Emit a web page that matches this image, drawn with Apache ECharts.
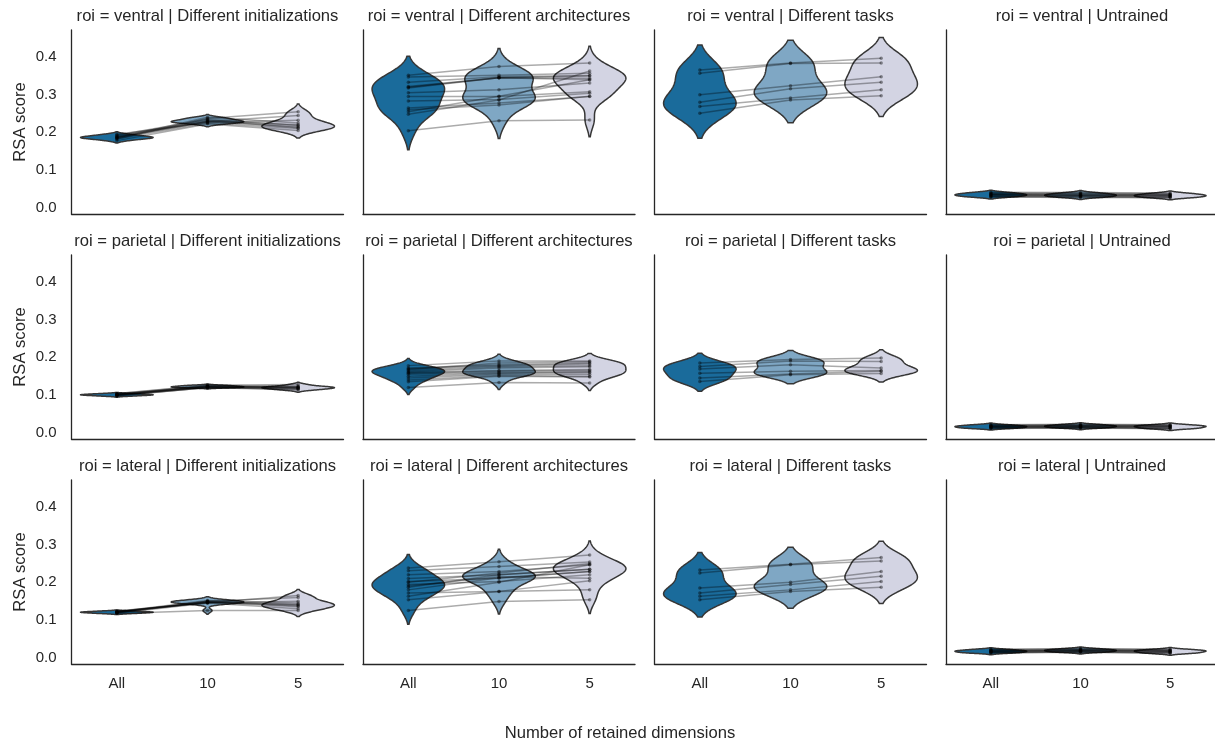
<!DOCTYPE html>
<html><head><meta charset="utf-8">
<script src="https://cdn.jsdelivr.net/npm/echarts@6/dist/echarts.min.js"></script>
<style>html,body{margin:0;padding:0;background:#fff}#chart{width:1215px;height:744px}</style>
</head><body><div id="chart"></div>
<script>
// ---------- data ----------
const categories = ['All', '10', '5'];
const rois = ['ventral', 'parietal', 'lateral'];
const conditions = ['Different initializations', 'Different architectures', 'Different tasks', 'Untrained'];
const yTicks = [0.0, 0.1, 0.2, 0.3, 0.4];
const xAxisTitle = 'Number of retained dimensions';
const yAxisTitle = 'RSA score';

// each panel: [values at All, values at 10, values at 5]; index k = one model
const ventralInit = [
  [0.178, 0.183, 0.186, 0.188, 0.190, 0.192, 0.185, 0.195, 0.187, 0.182],
  [0.222, 0.225, 0.228, 0.230, 0.232, 0.235, 0.240, 0.226, 0.229, 0.237],
  [0.205, 0.210, 0.215, 0.220, 0.212, 0.218, 0.225, 0.232, 0.245, 0.255]
];
const ventralArch = [
  [0.352, 0.347, 0.333, 0.322, 0.318, 0.305, 0.295, 0.283, 0.265, 0.260, 0.255, 0.248, 0.204, 0.320],
  [0.375, 0.352, 0.348, 0.345, 0.345, 0.313, 0.295, 0.287, 0.278, 0.273, 0.296, 0.286, 0.231, 0.345],
  [0.384, 0.357, 0.351, 0.344, 0.340, 0.331, 0.308, 0.304, 0.295, 0.296, 0.340, 0.363, 0.233, 0.350]
];
const ventralTask = [
  [0.366, 0.357, 0.300, 0.280, 0.269, 0.251],
  [0.384, 0.383, 0.324, 0.316, 0.291, 0.286],
  [0.397, 0.384, 0.348, 0.333, 0.313, 0.297]
];
const ventralUntr = [
  [0.031, 0.036, 0.034, 0.039, 0.029, 0.034, 0.041, 0.032, 0.037, 0.028],
  [0.030, 0.035, 0.033, 0.038, 0.028, 0.033, 0.040, 0.031, 0.036, 0.027],
  [0.029, 0.034, 0.032, 0.037, 0.027, 0.032, 0.039, 0.030, 0.035, 0.026]
];
const parietalInit = [
  [0.098, 0.100, 0.101, 0.102, 0.099, 0.103, 0.100, 0.097, 0.101, 0.104],
  [0.120, 0.122, 0.124, 0.121, 0.119, 0.125, 0.123, 0.120, 0.122, 0.126],
  [0.115, 0.118, 0.120, 0.122, 0.117, 0.124, 0.119, 0.113, 0.121, 0.128]
];
const parietalArch = [
  [0.178, 0.172, 0.170, 0.165, 0.162, 0.160, 0.158, 0.155, 0.150, 0.145, 0.140, 0.135, 0.120, 0.168],
  [0.190, 0.180, 0.178, 0.175, 0.172, 0.165, 0.163, 0.160, 0.158, 0.155, 0.152, 0.150, 0.133, 0.185],
  [0.190, 0.185, 0.182, 0.178, 0.175, 0.168, 0.165, 0.162, 0.160, 0.155, 0.150, 0.148, 0.132, 0.188]
];
const parietalTask = [
  [0.185, 0.176, 0.169, 0.158, 0.145, 0.136],
  [0.194, 0.190, 0.180, 0.163, 0.156, 0.154],
  [0.198, 0.189, 0.172, 0.165, 0.163, 0.157]
];
const parietalUntr = [
  [0.013, 0.017, 0.016, 0.020, 0.012, 0.016, 0.021, 0.014, 0.018, 0.011],
  [0.014, 0.018, 0.017, 0.021, 0.013, 0.017, 0.022, 0.015, 0.019, 0.012],
  [0.013, 0.017, 0.016, 0.020, 0.011, 0.016, 0.021, 0.013, 0.018, 0.010]
];
const lateralInit = [
  [0.118, 0.120, 0.121, 0.122, 0.119, 0.123, 0.120, 0.117, 0.121, 0.124],
  [0.145, 0.148, 0.150, 0.152, 0.147, 0.145, 0.150, 0.125, 0.148, 0.146],
  [0.130, 0.135, 0.140, 0.145, 0.138, 0.150, 0.160, 0.125, 0.142, 0.165]
];
const lateralArch = [
  [0.238, 0.231, 0.220, 0.210, 0.202, 0.194, 0.187, 0.180, 0.172, 0.163, 0.154, 0.125, 0.200, 0.190],
  [0.255, 0.242, 0.229, 0.220, 0.211, 0.202, 0.220, 0.212, 0.176, 0.200, 0.176, 0.149, 0.225, 0.215],
  [0.273, 0.254, 0.247, 0.235, 0.229, 0.220, 0.235, 0.229, 0.180, 0.247, 0.204, 0.154, 0.250, 0.211]
];
const lateralTask = [
  [0.233, 0.225, 0.185, 0.172, 0.163, 0.154],
  [0.248, 0.247, 0.200, 0.194, 0.180, 0.176],
  [0.266, 0.257, 0.229, 0.216, 0.202, 0.187]
];
const lateralUntr = [
  [0.014, 0.018, 0.017, 0.021, 0.013, 0.017, 0.022, 0.015, 0.019, 0.012],
  [0.016, 0.020, 0.019, 0.023, 0.015, 0.019, 0.024, 0.017, 0.021, 0.014],
  [0.014, 0.018, 0.017, 0.021, 0.012, 0.017, 0.022, 0.014, 0.019, 0.011]
];

const panels = [
  [ventralInit, ventralArch, ventralTask, ventralUntr],
  [parietalInit, parietalArch, parietalTask, parietalUntr],
  [lateralInit, lateralArch, lateralTask, lateralUntr]
];

// ---------- style / layout ----------
const violinColors = ['#1a6b9b', '#7fa7c4', '#d3d4e3'];
const edgeColor = '#363636';
const textColor = '#262626';
const fontFamily = "'Liberation Sans', Arial, sans-serif";
const gridLefts = [71.5, 363, 654.5, 946];
const gridTops = [30, 255, 480];
const gridW = 272, gridH = 184;
const yMin = -0.017, yMax = 0.472;

// ---------- KDE (scott bandwidth, cut = 2, width-normalised) ----------
function kde(vals) {
  const n = vals.length;
  const mean = vals.reduce((a, b) => a + b, 0) / n;
  const sd = Math.sqrt(vals.reduce((a, b) => a + (b - mean) * (b - mean), 0) / (n - 1)) || 0.001;
  const bw = sd * Math.pow(n, -0.2);
  const lo = Math.min(...vals) - 2 * bw, hi = Math.max(...vals) + 2 * bw;
  const ys = [], ds = [];
  const G = 100;
  let mx = 0;
  for (let i = 0; i < G; i++) {
    const y = lo + (hi - lo) * i / (G - 1);
    let d = 0;
    for (const v of vals) { const z = (y - v) / bw; d += Math.exp(-0.5 * z * z); }
    ys.push(y); ds.push(d); if (d > mx) mx = d;
  }
  return { ys, ds: ds.map(d => d / mx) };
}

const grids = [], xAxes = [], yAxes = [], series = [], graphics = [];
let gi = 0;
for (let r = 0; r < 3; r++) {
  for (let c = 0; c < 4; c++) {
    const groups = panels[r][c];
    grids.push({ left: gridLefts[c], top: gridTops[r], width: gridW, height: gridH });
    xAxes.push({
      type: 'category', gridIndex: gi, data: categories, boundaryGap: true,
      axisLine: { show: true, onZero: false, lineStyle: { color: textColor, width: 1.3 } },
      axisTick: { show: false }, splitLine: { show: false },
      axisLabel: { show: r === 2, color: textColor, fontSize: 15, fontFamily, margin: 12 }
    });
    yAxes.push({
      type: 'value', gridIndex: gi, min: yMin, max: yMax, splitNumber: 5,
      axisLine: { show: true, onZero: false, lineStyle: { color: textColor, width: 1.3 } },
      axisTick: { show: false }, splitLine: { show: false },
      axisLabel: {
        show: c === 0, color: textColor, fontSize: 15, fontFamily, margin: 15,
        showMinLabel: false, showMaxLabel: false,
        formatter: v => {
          const t = yTicks.find(tk => Math.abs(tk - v) < 1e-6);
          return t === undefined ? '' : t.toFixed(1);
        }
      }
    });
    const curves = groups.map(kde);
    series.push({
      type: 'custom', xAxisIndex: gi, yAxisIndex: gi, silent: true, animation: false, z: 2,
      data: groups.map((g, i) => [i, g.reduce((a, b) => a + b, 0) / g.length]),
      encode: { x: 0, y: 1 },
      renderItem: (params, api) => {
        const i = params.dataIndex;
        const cv = curves[i];
        const halfW = api.size([1, 0])[0] * 0.4;
        const cx = api.coord([i, cv.ys[0]])[0];
        const right = [], left = [];
        for (let k = 0; k < cv.ys.length; k++) {
          const py = api.coord([i, cv.ys[k]])[1];
          right.push([cx + cv.ds[k] * halfW, py]);
          left.push([cx - cv.ds[k] * halfW, py]);
        }
        const pts = right.concat(left.reverse());
        return { type: 'polygon', shape: { points: pts },
          style: { fill: violinColors[i], stroke: edgeColor, lineWidth: 1.5 } };
      }
    });
    const nModels = groups[0].length;
    for (let m = 0; m < nModels; m++) {
      series.push({
        type: 'line', xAxisIndex: gi, yAxisIndex: gi, silent: true, animation: false, z: 3,
        data: groups.map(g => g[m]),
        symbol: 'circle', symbolSize: 3.5, showSymbol: true,
        lineStyle: { color: 'rgba(0,0,0,0.33)', width: 1.5 },
        itemStyle: { color: 'rgba(0,0,0,0.4)' },
        emphasis: { disabled: true }
      });
    }
    graphics.push({
      type: 'text', x: gridLefts[c] + gridW / 2, y: gridTops[r] - 14,
      style: { text: 'roi = ' + rois[r] + ' | ' + conditions[c], fill: textColor,
        font: '16.6px ' + fontFamily, textAlign: 'center', textVerticalAlign: 'middle' }
    });
    gi++;
  }
  graphics.push({
    type: 'text', x: 20, y: gridTops[r] + gridH / 2, rotation: Math.PI / 2,
    style: { text: yAxisTitle, fill: textColor, font: '16.6px ' + fontFamily,
      textAlign: 'center', textVerticalAlign: 'middle' }
  });
}
graphics.push({
  type: 'text', x: 620, y: 733,
  style: { text: xAxisTitle, fill: textColor, font: '16.6px ' + fontFamily,
    textAlign: 'center', textVerticalAlign: 'middle' }
});

const chart = echarts.init(document.getElementById('chart'), null, { renderer: 'canvas' });
chart.setOption({
  animation: false,
  backgroundColor: '#ffffff',
  grid: grids, xAxis: xAxes, yAxis: yAxes, series: series, graphic: graphics
});
</script></body></html>
